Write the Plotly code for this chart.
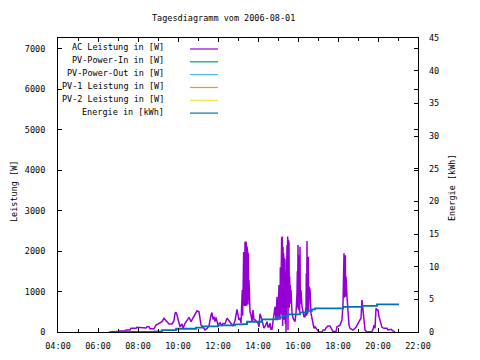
import plotly.graph_objects as go

DAY = "2006-08-01 "

title_text = "Tagesdiagramm vom 2006-08-01"
y_title = "Leistung [W]"
y2_title = "Energie [kWh]"

series_names = ["AC Leistung in [W]", "PV-Power-In in [W]", "PV-Power-Out in [W]",
                "PV-1 Leistung in [W]", "PV-2 Leistung in [W]", "Energie in [kWh]"]
series_colors = ["#9400D3", "#009E73", "#56B4E9", "#E69F00", "#F0E442", "#0072B2"]

x_tickvals = ["04:00", "06:00", "08:00", "10:00", "12:00", "14:00", "16:00", "18:00", "20:00", "22:00"]

ac_time = [
    "06:33", "06:39", "06:57", "07:03", "07:21", "07:24", "07:36", "07:39", "07:54", "07:57",
    "08:09", "08:12", "08:24", "08:27", "08:33", "08:36", "08:48", "08:54", "09:03", "09:12",
    "09:18", "09:24", "09:33", "09:42", "09:48", "09:51", "09:54", "09:57", "10:03", "10:06",
    "10:12", "10:15", "10:21", "10:27", "10:33", "10:39", "10:45", "10:51", "10:57", "11:03",
    "11:06", "11:09", "11:15", "11:21", "11:27", "11:33", "11:39", "11:42", "11:45", "11:48",
    "11:51", "11:54", "12:00", "12:06", "12:12", "12:15", "12:21", "12:27", "12:33", "12:39",
    "12:45", "12:51", "12:57", "13:00", "13:03", "13:06", "13:09", "13:12",
    "13:13", "13:14", "13:15", "13:16", "13:17", "13:18", "13:19", "13:20", "13:21", "13:22",
    "13:23", "13:24", "13:25", "13:26", "13:27", "13:28", "13:29", "13:30", "13:31", "13:32",
    "13:33", "13:34", "13:36", "13:39", "13:42", "13:45", "13:48", "13:51", "14:00", "14:03",
    "14:06", "14:09", "14:12", "14:18", "14:21", "14:27", "14:30", "14:33", "14:36", "14:39",
    "14:42", "14:45", "14:51", "14:54", "14:57", "15:00",
    "15:01", "15:02", "15:03", "15:04", "15:05", "15:06", "15:07", "15:08", "15:09", "15:10",
    "15:11", "15:12", "15:13", "15:14", "15:15", "15:16", "15:17", "15:18", "15:19", "15:20",
    "15:21", "15:22", "15:23", "15:24", "15:25", "15:26", "15:27", "15:28", "15:29", "15:30",
    "15:31", "15:32", "15:33", "15:34", "15:35", "15:36", "15:37", "15:38", "15:39", "15:42",
    "15:45", "15:51", "15:54", "15:57",
    "15:58", "15:59", "16:00", "16:01", "16:02", "16:03", "16:04", "16:05", "16:06", "16:07",
    "16:09", "16:12", "16:15", "16:18", "16:21", "16:24", "16:25", "16:26", "16:27", "16:28",
    "16:29", "16:30", "16:31", "16:32", "16:33", "16:36", "16:39", "16:42", "16:45", "16:48",
    "16:51", "17:00", "17:03", "17:12", "17:15", "17:21", "17:24", "17:30", "17:36", "17:39",
    "17:45", "17:54", "17:57", "18:06", "18:12", "18:15", "18:16", "18:17", "18:18", "18:19",
    "18:20", "18:21", "18:22", "18:23", "18:24", "18:27", "18:30", "18:33", "18:36", "18:45",
    "18:54", "18:57", "19:03", "19:09", "19:12", "19:15", "19:18", "19:21", "19:27", "19:33",
    "19:42", "19:45", "19:48", "19:51", "19:54", "19:57", "20:00", "20:03", "20:09", "20:12",
    "20:18", "20:27", "20:30", "20:39", "20:45", "20:51",
]
ac_power = [
    0, 0, 10, 25, 25, 50, 50, 90, 90, 115,
    115, 100, 100, 130, 130, 80, 80, 170, 220, 255,
    340, 280, 200, 200, 280, 460, 490, 420, 215, 130,
    200, 90, 215, 280, 360, 255, 340, 460, 525, 500,
    340, 170, 130, 50, 90, 150, 420, 480, 310, 380,
    255, 360, 170, 230, 150, 215, 200, 340, 280, 200,
    150, 280, 560, 420, 300, 340, 220, 870,
    1040, 400, 1600, 620, 1980, 700, 2150, 650, 2230, 640,
    2240, 700, 2200, 650, 2110, 700, 1980, 680, 1950, 800,
    1290, 670, 500, 420, 255, 545, 300, 300, 220, 130,
    450, 380, 255, 100, 130, 255, 125, 125, 215, 65,
    65, 220, 620, 300, 870, 300,
    1000, 350, 1160, 500, 1370, 300, 1600, 450, 2030, 600,
    2340, 400, 2360, 150, 2100, 600, 1950, 300, 1830, 500,
    1800, 200, 1500, 0, 1200, 400, 2150, 600, 2360, 50,
    2275, 500, 2200, 600, 1370, 700, 1160, 800, 1040, 470,
    340, 255, 470, 960,
    1500, 600, 2150, 550, 1900, 600, 1740, 500, 2110, 700,
    1040, 625, 500, 380, 380, 625, 1450, 400, 2250, 450,
    2100, 500, 1860, 550, 1120, 1040, 460, 340, 215, 90,
    130, 50, 0, 0, 50, 50, 100, 150, 150, 100,
    10, 10, 130, 170, 300, 700, 1290, 800, 1950, 850,
    1800, 900, 1900, 870, 1370, 870, 420, 170, 90, 50,
    115, 170, 255, 340, 790, 545, 255, 50, 0, 10,
    10, 65, 170, 90, 585, 545, 545, 380, 170, 115,
    90, 90, 50, 65, 30, 0,
]

energy_time = ["06:51", "08:51", "09:12", "09:54", "10:54", "11:12", "12:00", "12:51",
               "13:15", "13:27", "14:12", "14:57", "15:15", "15:30", "16:06", "16:27",
               "16:42", "16:51", "18:15", "19:12", "19:57", "21:03"]
energy_kwh = [0.0, 0.1, 0.3, 0.5, 0.66, 0.87, 1.02, 1.17,
              1.22, 1.57, 1.94, 2.24, 2.49, 2.70, 3.0, 3.25,
              3.46, 3.62, 3.86, 4.01, 4.22, 4.22]

pv_in_time, pv_in_power = [], []
pv_out_time, pv_out_power = [], []
pv1_time, pv1_power = [], []
pv2_time, pv2_power = [], []

FONT = "DejaVu Sans Mono"
FS = 8.5

# The page body has an 8 px margin, so the figure is drawn 8 px in from the window edge.
OFF = 8
W, H = 480 - OFF, 360 - OFF
L, R, T, B = 50, 62, 30, 28
PW, PH = W - L - R, H - T - B


def px(x):
    # window pixel -> paper fraction
    return (x - OFF - L) / PW


def py(y):
    return (H - B - (y - OFF)) / PH


fig = go.Figure()
fig.add_trace(go.Scatter(x=[DAY + t for t in ac_time], y=ac_power, mode="lines",
                         line=dict(color=series_colors[0], width=1.5), showlegend=False))
for tt, vv, col in [(pv_in_time, pv_in_power, series_colors[1]),
                    (pv_out_time, pv_out_power, series_colors[2]),
                    (pv1_time, pv1_power, series_colors[3]),
                    (pv2_time, pv2_power, series_colors[4])]:
    fig.add_trace(go.Scatter(x=[DAY + t for t in tt], y=vv, mode="lines",
                             line=dict(color=col, width=1.2), showlegend=False))
fig.add_trace(go.Scatter(x=[DAY + t for t in energy_time], y=energy_kwh, mode="lines",
                         line=dict(color=series_colors[5], width=1.8, shape="hv"),
                         yaxis="y2", showlegend=False))

txt_font = dict(family=FONT, size=FS, color="black")
annotations = [
    dict(text=title_text, x=px(223), y=py(18), xref="paper", yref="paper",
         xanchor="center", yanchor="middle", showarrow=False, font=txt_font),
    dict(text=y_title, x=px(14), y=py(192), xref="paper", yref="paper", textangle=-90,
         xanchor="center", yanchor="middle", showarrow=False, font=txt_font),
    dict(text=y2_title, x=px(452), y=py(188), xref="paper", yref="paper", textangle=-90,
         xanchor="center", yanchor="middle", showarrow=False, font=txt_font),
]
shapes = []
row_y = [47.5, 60.3, 73.1, 86.0, 98.8, 111.6]
for name, col, ry in zip(series_names, series_colors, row_y):
    annotations.append(dict(text=name, x=px(166), y=py(ry), xref="paper", yref="paper",
                            xanchor="right", yanchor="middle", showarrow=False,
                            font=txt_font))
    shapes.append(dict(type="line", xref="paper", yref="paper", x0=px(190), x1=px(218),
                       y0=py(ry + 1.5), y1=py(ry + 1.5), line=dict(color=col, width=1.2)))

fig.update_layout(
    width=W, height=H,
    margin=dict(l=L, r=R, t=T, b=B, pad=0, autoexpand=False),
    paper_bgcolor="white", plot_bgcolor="white",
    font=txt_font,
    showlegend=False,
    annotations=annotations,
    shapes=shapes,
    xaxis=dict(
        type="date",
        range=[DAY + "04:00", DAY + "22:00"],
        tickvals=[DAY + t for t in x_tickvals],
        ticktext=x_tickvals,
        ticks="inside", ticklen=4, tickcolor="black",
        minor=dict(dtick=3600000, ticks="inside", ticklen=3, tickcolor="black"),
        showline=True, linecolor="black", linewidth=1, mirror="ticks",
        showgrid=False, zeroline=False,
        ticklabelstandoff=6,
        tickfont=dict(family=FONT, size=FS),
    ),
    yaxis=dict(
        range=[0, 7270],
        tickvals=[0, 1000, 2000, 3000, 4000, 5000, 6000, 7000],
        ticks="inside", ticklen=4, tickcolor="black",
        showline=True, linecolor="black", linewidth=1, mirror="ticks",
        showgrid=False, zeroline=False,
        ticklabelstandoff=10,
        tickfont=dict(family=FONT, size=FS),
    ),
    yaxis2=dict(
        range=[0, 45], overlaying="y", side="right",
        tickvals=[0, 5, 10, 15, 20, 25, 30, 35, 40, 45],
        ticks="inside", ticklen=4, tickcolor="black",
        showline=False, showgrid=False, zeroline=False,
        ticklabelstandoff=10,
        tickfont=dict(family=FONT, size=FS),
    ),
)

fig.write_html("out.html")
